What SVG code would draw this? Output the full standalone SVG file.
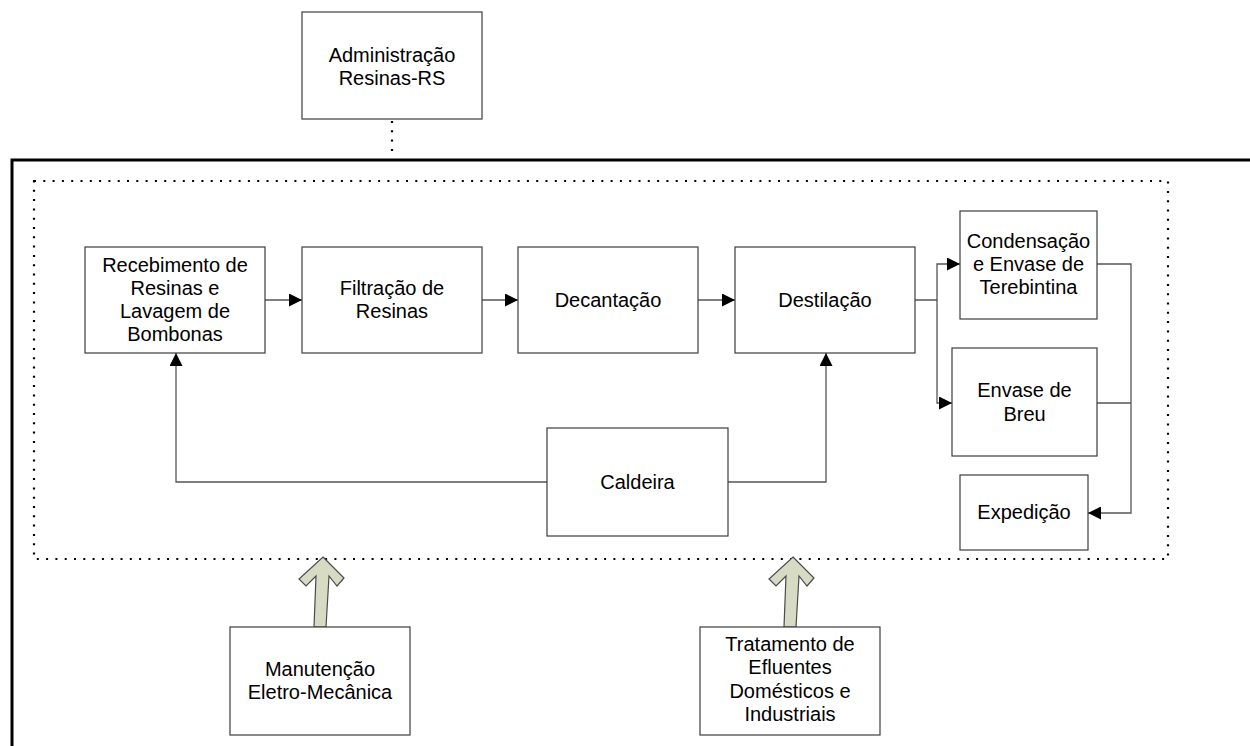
<svg xmlns="http://www.w3.org/2000/svg" width="1250" height="746" viewBox="0 0 1250 746">
  <style>
    .box { fill: #ffffff; stroke: #3c3c3c; stroke-width: 1.2; }
    .lbl { font-family: "Liberation Sans", Arial, sans-serif; font-size: 20px; fill: #000; text-anchor: middle; }
    .flow { fill: none; stroke: #555555; stroke-width: 1.3; }
    .dots { fill: none; stroke: #000; stroke-width: 2.2; stroke-dasharray: 2 7.3; }
    .frame { fill: none; stroke: #000; stroke-width: 3; }
    .block { fill: #d7dbc4; stroke: #4a4a4a; stroke-width: 1.2; stroke-linejoin: miter; }
  </style>
  <defs>
    <marker id="tri" viewBox="0 0 13 13" refX="13" refY="6.5" markerWidth="13" markerHeight="13" markerUnits="userSpaceOnUse" orient="auto">
      <path d="M0,0 L13,6.5 L0,13 Z" fill="#000"/>
    </marker>
  </defs>
  <rect width="1250" height="746" fill="#ffffff"/>

  <!-- plant boundary and process area -->
  <g id="frame">
    <path class="frame" d="M12,746 L12,160 L1250,160"/>
    <rect class="dots" x="34" y="181" width="1134" height="378"/>
    <line class="dots" x1="392" y1="121" x2="392" y2="158"/>
  </g>

  <!-- connectors -->
  <g id="connectors">
    <line class="flow" x1="265" y1="300" x2="302" y2="300" marker-end="url(#tri)"/>
    <line class="flow" x1="482" y1="300" x2="518" y2="300" marker-end="url(#tri)"/>
    <line class="flow" x1="698" y1="300" x2="735" y2="300" marker-end="url(#tri)"/>
    <path class="flow" d="M915,300 H937 V264 H960" marker-end="url(#tri)"/>
    <path class="flow" d="M937,300 V403 H952" marker-end="url(#tri)"/>
    <path class="flow" d="M1097,264 H1131 V513 H1088" marker-end="url(#tri)"/>
    <line class="flow" x1="1097" y1="403" x2="1131" y2="403"/>
    <path class="flow" d="M547,482 H176 V353" marker-end="url(#tri)"/>
    <path class="flow" d="M728,482 H826 V353" marker-end="url(#tri)"/>
    <!-- support block arrows -->
    <path class="block" d="M323,557 L344,578 L337,586 L329,576 L326,627 L314,627 L316,576 L306,586 L299,579 Z"/>
    <path class="block" d="M793,557 L814,578 L807,586 L799,576 L796,627 L784,627 L786,576 L776,586 L769,579 Z"/>
  </g>

  <g id="admin">
    <rect class="box" x="302" y="12" width="180" height="107"/>
    <text class="lbl" x="392" y="62">Administração</text>
    <text class="lbl" x="392" y="85">Resinas-RS</text>
  </g>

  <g id="recebimento">
    <rect class="box" x="85" y="247" width="180" height="106"/>
    <text class="lbl" x="175" y="272">Recebimento de</text>
    <text class="lbl" x="175" y="295">Resinas e</text>
    <text class="lbl" x="175" y="318">Lavagem de</text>
    <text class="lbl" x="175" y="341">Bombonas</text>
  </g>

  <g id="filtracao">
    <rect class="box" x="302" y="247" width="180" height="106"/>
    <text class="lbl" x="392" y="295">Filtração de</text>
    <text class="lbl" x="392" y="318">Resinas</text>
  </g>

  <g id="decantacao">
    <rect class="box" x="518" y="247" width="180" height="106"/>
    <text class="lbl" x="608" y="307">Decantação</text>
  </g>

  <g id="destilacao">
    <rect class="box" x="735" y="247" width="180" height="106"/>
    <text class="lbl" x="825" y="307">Destilação</text>
  </g>

  <g id="condensacao">
    <rect class="box" x="960" y="211" width="137" height="108"/>
    <text class="lbl" x="1028.5" y="248">Condensação</text>
    <text class="lbl" x="1028.5" y="271">e Envase de</text>
    <text class="lbl" x="1028.5" y="294">Terebintina</text>
  </g>

  <g id="breu">
    <rect class="box" x="952" y="348" width="145" height="108"/>
    <text class="lbl" x="1024.5" y="397">Envase de</text>
    <text class="lbl" x="1024.5" y="421">Breu</text>
  </g>

  <g id="expedicao">
    <rect class="box" x="960" y="475" width="128" height="75"/>
    <text class="lbl" x="1024" y="519">Expedição</text>
  </g>

  <g id="caldeira">
    <rect class="box" x="547" y="428" width="181" height="108"/>
    <text class="lbl" x="637.5" y="489">Caldeira</text>
  </g>

  <g id="manutencao">
    <rect class="box" x="230" y="627" width="180" height="108"/>
    <text class="lbl" x="320" y="676">Manutenção</text>
    <text class="lbl" x="320" y="699">Eletro-Mecânica</text>
  </g>

  <g id="tratamento">
    <rect class="box" x="700" y="627" width="180" height="108"/>
    <text class="lbl" x="790" y="651">Tratamento de</text>
    <text class="lbl" x="790" y="674">Efluentes</text>
    <text class="lbl" x="790" y="698">Domésticos e</text>
    <text class="lbl" x="790" y="721">Industriais</text>
  </g>
</svg>
